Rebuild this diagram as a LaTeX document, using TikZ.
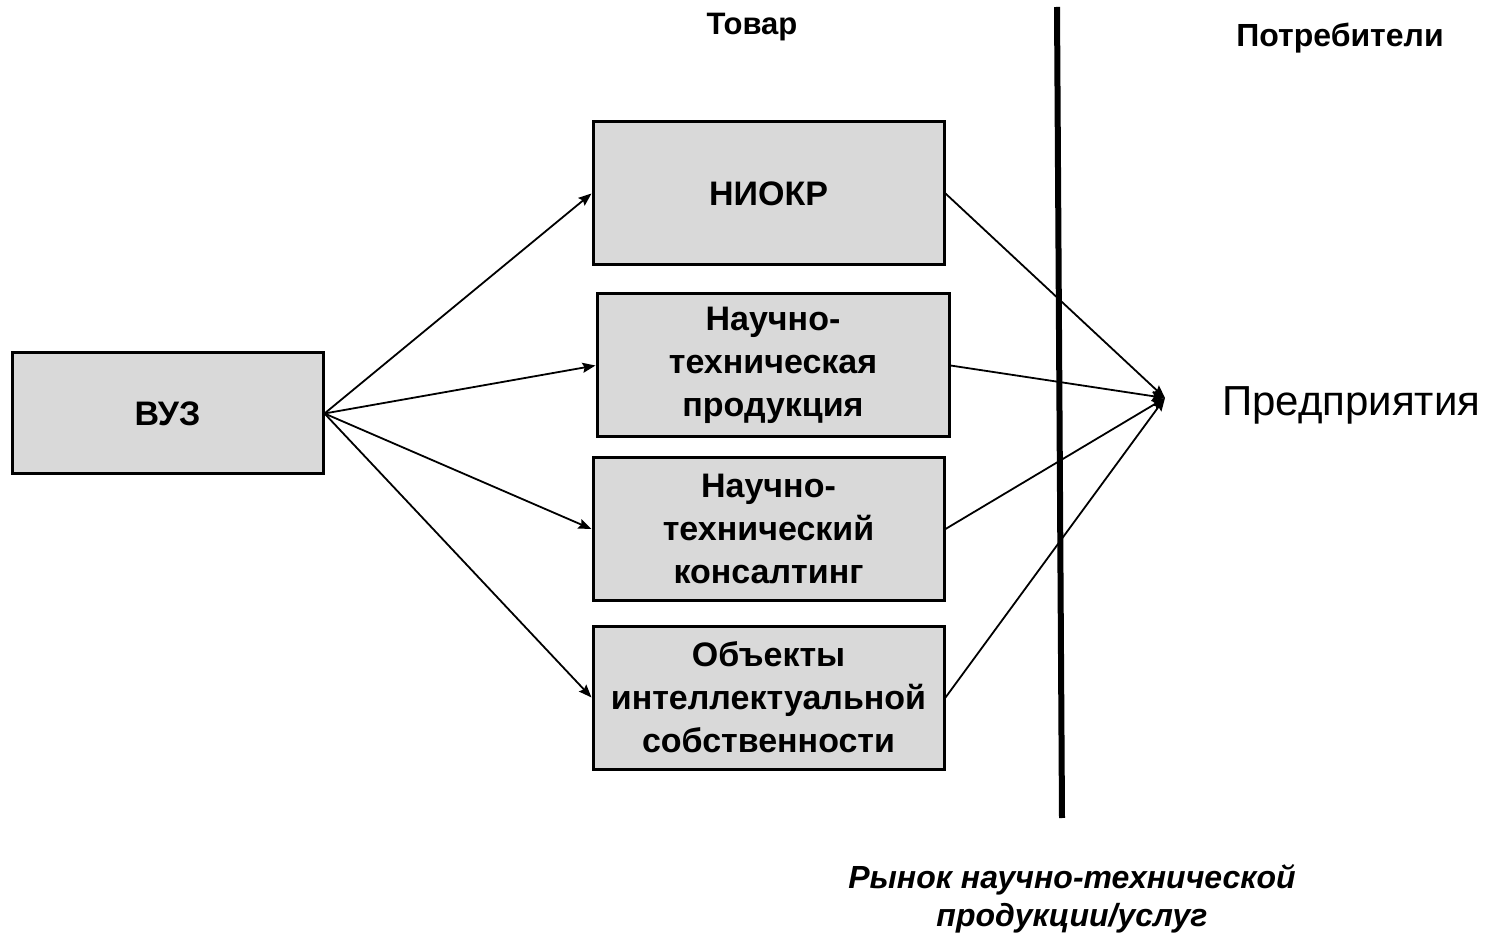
\documentclass[tikz,border=0pt]{standalone}
\usepackage{fontspec}
\setmainfont{Liberation Sans}
\usepackage{xcolor}
\usepackage{tikz}
\usetikzlibrary{arrows.meta, positioning}
\definecolor{boxgray}{HTML}{D9D9D9}

\begin{document}
\begin{tikzpicture}[x=0.5pt, y=-0.5pt]
\tikzstyle{goods} = [rectangle, minimum width=175.5pt, minimum height=71.5pt, text centered, align=center, draw=black, line width=1.5pt, fill=boxgray, font=\bfseries\fontsize{17}{21.5}\selectfont]
\tikzstyle{arrow} = [line width=0.9pt,-{Stealth[length=6.5pt,width=5pt,inset=1pt]}]
\tikzstyle{caption} = [font=\bfseries\fontsize{15.5}{19}\selectfont]

\useasboundingbox (0,0) rectangle (1489,935);

\node (vuz) [goods, minimum width=155.5pt, minimum height=60.5pt] at (167.5,413.5) {ВУЗ};
\node (niokr) [goods] at (768.5,193.5) {НИОКР};
\node (product) [goods, minimum width=176pt] at (773,365.5) {Научно-\\техническая\\продукция};
\node (consult) [goods] at (768.5,529) {Научно-\\технический\\консалтинг};
\node (property) [goods] at (768.5,697.5) {Объекты\\интеллектуальной\\собственности};

\node (goodstitle) [caption] at (752,27) {Товар};
\node (consumers) [caption, font=\bfseries\fontsize{16}{19}\selectfont] at (1340,38) {Потребители};
\node (firms) [anchor=west, font=\fontsize{21}{25}\selectfont] at (1215,405) {Предприятия};
\node (market) [font=\bfseries\itshape\fontsize{16}{19}\selectfont, align=center] at (1072,899) {Рынок научно-технической\\продукции/услуг};

\coordinate (meet) at (1165,398);
\coordinate (bordertop) at (1057,7);
\coordinate (borderbot) at (1062,818);

\draw [line width=3pt] (bordertop) -- (borderbot);

\draw [arrow] (vuz.east) -- (niokr.west);
\draw [arrow] (vuz.east) -- (product.west);
\draw [arrow] (vuz.east) -- (consult.west);
\draw [arrow] (vuz.east) -- (property.west);
\draw [arrow] (niokr.east) -- (meet);
\draw [arrow] (product.east) -- (meet);
\draw [arrow] (consult.east) -- (meet);
\draw [arrow] (property.east) -- (meet);
\end{tikzpicture}
\end{document}
